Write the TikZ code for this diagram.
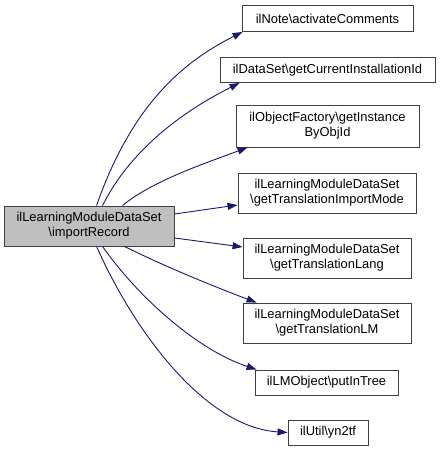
\documentclass[tikz,border=0pt]{standalone}
\usepackage{fontspec}
\setmainfont{Liberation Sans}
\usetikzlibrary{arrows.meta}
\definecolor{edgeblue}{HTML}{191970}
\definecolor{boxline}{HTML}{404040}
\definecolor{mainfill}{HTML}{BFBFBF}
\tikzset{
  fn/.style={draw=boxline, line width=0.9pt, fill=white, inner sep=0pt, align=center,
    font=\fontsize{12.9}{15}\selectfont},
  mainfn/.style={fn, fill=mainfill},
  call/.style={draw=edgeblue, line width=0.9pt, -{Triangle[length=10pt,width=7pt]}},
}
\newcommand{\bs}{\textbackslash}
\begin{document}
\begin{tikzpicture}[x=1pt,y=-1pt]
\useasboundingbox (0,0) rectangle (440,452);
\node[mainfn, minimum width=170, minimum height=40] (m) at (89,226) {ilLearningModuleDataSet\\\bs importRecord};
\node[fn, minimum width=171, minimum height=26] (n1) at (327.5,18.5) {ilNote\bs activateComments};
\node[fn, minimum width=215, minimum height=25] (n2) at (327.5,70) {ilDataSet\bs getCurrentInstallationId};
\node[fn, minimum width=183, minimum height=42] (n3) at (327.5,126) {ilObjectFactory\bs getInstance\\ByObjId};
\node[fn, minimum width=178, minimum height=40] (n4) at (327,193) {ilLearningModuleDataSet\\\bs getTranslationImportMode};
\node[fn, minimum width=168, minimum height=40] (n5) at (327,258) {ilLearningModuleDataSet\\\bs getTranslationLang};
\node[fn, minimum width=168, minimum height=40] (n6) at (327,323) {ilLearningModuleDataSet\\\bs getTranslationLM};
\node[fn, minimum width=143, minimum height=25] (n7) at (326.5,382.5) {ilLMObject\bs putInTree};
\node[fn, minimum width=80, minimum height=25] (n8) at (328,432.5) {ilUtil\bs yn2tf};

\draw[call] ([xshift=93]m.north west) .. controls +(35,-100) and +(-60,30) .. ([xshift=1]n1.south west);
\draw[call] ([xshift=99]m.north west) .. controls +(30,-60) and +(-50,25) .. ([xshift=20]n2.south west);
\draw[call] ([xshift=119]m.north west) .. controls +(30,-25) and +(-40,15) .. ([xshift=12]n3.south west);
\draw[call] ([yshift=12]m.east) -- ([yshift=-12]n4.west);
\draw[call] ([yshift=-12]m.east) -- ([yshift=11]n5.west);
\draw[call] ([xshift=121]m.south west) .. controls +(40,20) and +(-40,-15) .. ([xshift=14]n6.north west);
\draw[call] ([xshift=99]m.south west) .. controls +(35,50) and +(-60,-20) .. ([xshift=2]n7.north west);
\draw[call] ([xshift=93]m.south west) .. controls +(40,90) and +(-80,-5) .. (n8.west);
\end{tikzpicture}
\end{document}
